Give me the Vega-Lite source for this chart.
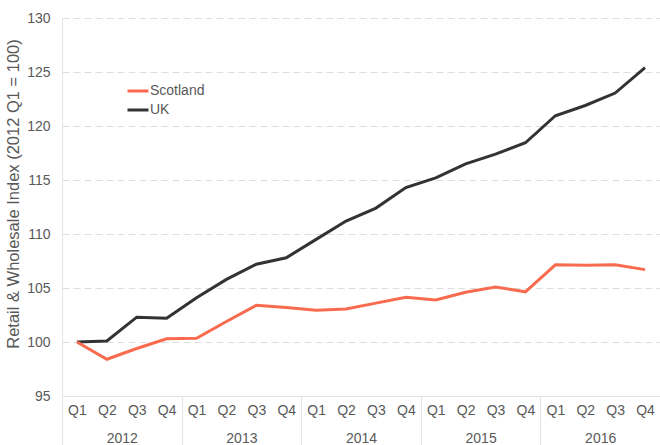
{
  "$schema": "https://vega.github.io/schema/vega-lite/v6.json",
  "autosize": {"type": "none"},
  "padding": {"left": 62, "top": 18, "right": 0, "bottom": 49},
  "width": 598,
  "height": 378,
  "config": {
    "view": {"stroke": null},
    "font": "Liberation Sans",
    "axis": {"labelFont": "Liberation Sans", "titleFont": "Liberation Sans", "labelColor": "#595959", "titleColor": "#595959", "labelFontSize": 14, "titleFontSize": 13, "titleFontWeight": "normal"},
    "legend": {"labelFont": "Liberation Sans"}
  },
  "data": {
    "values": [
      {"period": "2012 Q1", "year": "2012", "series": "UK", "value": 100},
      {"period": "2012 Q2", "year": "2012", "series": "UK", "value": 100.1},
      {"period": "2012 Q3", "year": "2012", "series": "UK", "value": 102.3},
      {"period": "2012 Q4", "year": "2012", "series": "UK", "value": 102.2},
      {"period": "2013 Q1", "year": "2013", "series": "UK", "value": 104.1},
      {"period": "2013 Q2", "year": "2013", "series": "UK", "value": 105.8},
      {"period": "2013 Q3", "year": "2013", "series": "UK", "value": 107.2},
      {"period": "2013 Q4", "year": "2013", "series": "UK", "value": 107.8},
      {"period": "2014 Q1", "year": "2014", "series": "UK", "value": 109.5},
      {"period": "2014 Q2", "year": "2014", "series": "UK", "value": 111.2},
      {"period": "2014 Q3", "year": "2014", "series": "UK", "value": 112.4},
      {"period": "2014 Q4", "year": "2014", "series": "UK", "value": 114.3},
      {"period": "2015 Q1", "year": "2015", "series": "UK", "value": 115.2},
      {"period": "2015 Q2", "year": "2015", "series": "UK", "value": 116.5},
      {"period": "2015 Q3", "year": "2015", "series": "UK", "value": 117.4},
      {"period": "2015 Q4", "year": "2015", "series": "UK", "value": 118.45},
      {"period": "2016 Q1", "year": "2016", "series": "UK", "value": 120.95},
      {"period": "2016 Q2", "year": "2016", "series": "UK", "value": 121.9},
      {"period": "2016 Q3", "year": "2016", "series": "UK", "value": 123.05},
      {"period": "2016 Q4", "year": "2016", "series": "UK", "value": 125.4},
      {"period": "2012 Q1", "year": "2012", "series": "Scotland", "value": 100},
      {"period": "2012 Q2", "year": "2012", "series": "Scotland", "value": 98.4},
      {"period": "2012 Q3", "year": "2012", "series": "Scotland", "value": 99.4},
      {"period": "2012 Q4", "year": "2012", "series": "Scotland", "value": 100.3},
      {"period": "2013 Q1", "year": "2013", "series": "Scotland", "value": 100.35},
      {"period": "2013 Q2", "year": "2013", "series": "Scotland", "value": 101.9},
      {"period": "2013 Q3", "year": "2013", "series": "Scotland", "value": 103.4},
      {"period": "2013 Q4", "year": "2013", "series": "Scotland", "value": 103.2},
      {"period": "2014 Q1", "year": "2014", "series": "Scotland", "value": 102.95},
      {"period": "2014 Q2", "year": "2014", "series": "Scotland", "value": 103.05},
      {"period": "2014 Q3", "year": "2014", "series": "Scotland", "value": 103.6},
      {"period": "2014 Q4", "year": "2014", "series": "Scotland", "value": 104.15},
      {"period": "2015 Q1", "year": "2015", "series": "Scotland", "value": 103.9},
      {"period": "2015 Q2", "year": "2015", "series": "Scotland", "value": 104.6},
      {"period": "2015 Q3", "year": "2015", "series": "Scotland", "value": 105.1},
      {"period": "2015 Q4", "year": "2015", "series": "Scotland", "value": 104.65},
      {"period": "2016 Q1", "year": "2016", "series": "Scotland", "value": 107.15},
      {"period": "2016 Q2", "year": "2016", "series": "Scotland", "value": 107.1},
      {"period": "2016 Q3", "year": "2016", "series": "Scotland", "value": 107.15},
      {"period": "2016 Q4", "year": "2016", "series": "Scotland", "value": 106.7}
    ]
  },
  "layer": [
    {
      "mark": {"type": "line", "strokeWidth": 3},
      "encoding": {
        "x": {
          "field": "period", "type": "nominal", "sort": null,
          "scale": {"type": "point", "padding": 0.5},
          "axis": {"title": null, "labelExpr": "substring(datum.label, 5)", "labelAngle": 0, "ticks": false, "domain": true, "domainColor": "#e3e3e3", "domainWidth": 1, "labelPadding": 7, "grid": false}
        },
        "y": {
          "field": "value", "type": "quantitative",
          "scale": {"domain": [95, 130], "nice": false, "zero": false},
          "axis": {"title": "Retail & Wholesale Index (2012 Q1 = 100)", "titleFontSize": 16.5, "titleX": -41, "titleY": 175.5, "values": [95, 100, 105, 110, 115, 120, 125, 130], "ticks": false, "domain": true, "domainColor": "#e3e3e3", "labelPadding": 12, "grid": true, "gridColor": "#dedede", "gridDash": [7, 4], "gridWidth": 1.2}
        },
        "color": {
          "field": "series", "type": "nominal",
          "scale": {"domain": ["Scotland", "UK"], "range": ["#F96B4F", "#333333"]},
          "legend": {"title": null, "orient": "none", "legendX": 64, "legendY": 61, "symbolType": "stroke", "symbolSize": 441, "symbolStrokeWidth": 3, "labelFontSize": 14, "labelColor": "#595959", "labelOffset": 0, "rowPadding": 0, "padding": 0}
        }
      }
    },
    {
      "mark": {"type": "point", "opacity": 0},
      "encoding": {
        "x": {
          "field": "year", "type": "nominal", "sort": null,
          "scale": {"type": "band", "paddingInner": 0, "paddingOuter": 0},
          "axis": {"title": null, "orient": "bottom", "labelAngle": 0, "domain": false, "ticks": true, "tickBand": "extent", "tickSize": 49, "tickColor": "#e3e3e3", "labelPadding": -14, "grid": false}
        },
        "y": {"field": "value", "type": "quantitative"}
      }
    }
  ],
  "resolve": {"scale": {"x": "independent"}, "axis": {"x": "independent"}}
}
